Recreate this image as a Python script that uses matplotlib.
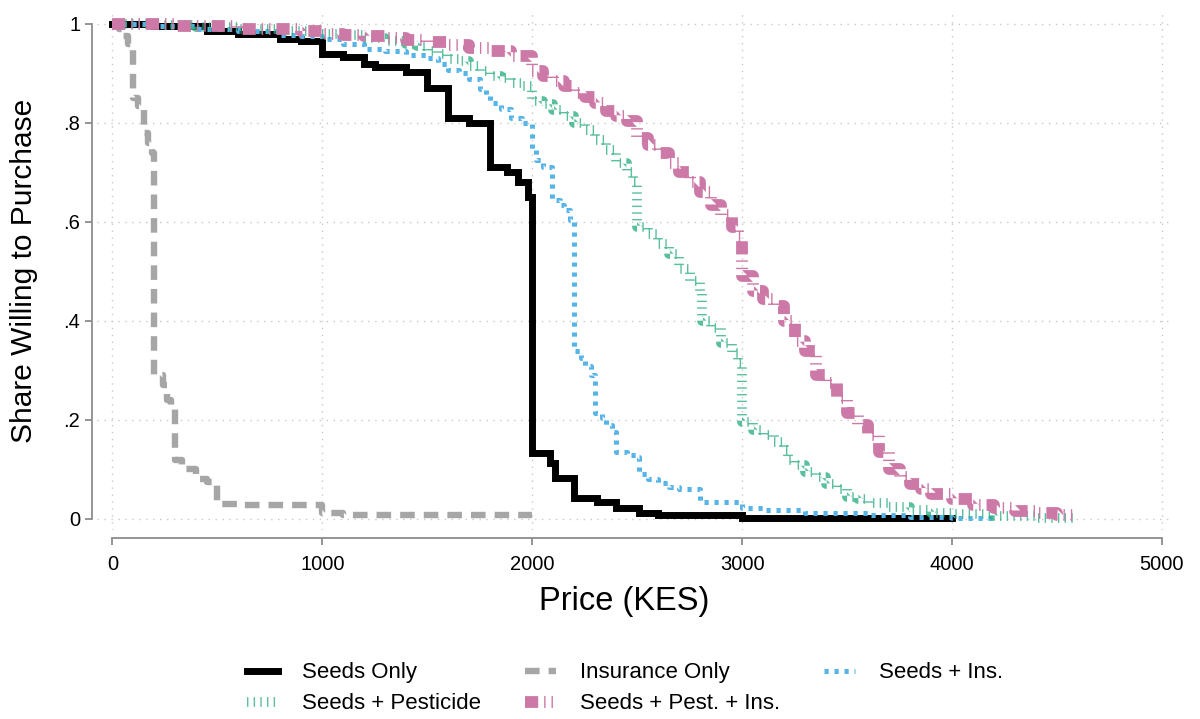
import numpy as np
import matplotlib
matplotlib.use("Agg")
import matplotlib.pyplot as plt

plt.rcParams["font.family"] = ["Liberation Sans", "DejaVu Sans"]
plt.rcParams["lines.scale_dashes"] = False

# demand curves: price (KES) where the share steps, and share after the step
seeds_price = [0, 200, 450, 600, 800, 900, 1000, 1100, 1200, 1250, 1400, 1500, 1600,
               1700, 1800, 1880, 1930, 1980, 2000, 2085, 2110, 2200, 2310, 2400,
               2510, 2600, 3000, 4000]
seeds_share = [1.0, 0.995, 0.985, 0.98, 0.97, 0.965, 0.94, 0.934, 0.92, 0.913, 0.903,
               0.87, 0.81, 0.80, 0.712, 0.70, 0.68, 0.65, 0.133, 0.113, 0.083, 0.042,
               0.034, 0.022, 0.012, 0.009, 0.002, 0.002]

ins_price = [0, 30, 50, 75, 100, 120, 150, 170, 190, 200, 240, 260, 280, 300, 330,
             350, 400, 450, 490, 500, 600, 1000, 1100, 2000]
ins_share = [1.0, 0.99, 0.975, 0.96, 0.85, 0.835, 0.78, 0.76, 0.74, 0.29, 0.27, 0.24,
             0.225, 0.12, 0.11, 0.10, 0.08, 0.075, 0.07, 0.03, 0.028, 0.012, 0.008, 0.008]

seeds_ins_price = [0, 200, 400, 600, 800, 900, 1000, 1100, 1200, 1300, 1400, 1500, 1550,
                   1600, 1650, 1700, 1750, 1780, 1800, 1850, 1900, 1950, 2000, 2020,
                   2050, 2095, 2130, 2150, 2180, 2200, 2230, 2250, 2280, 2300, 2330,
                   2350, 2380, 2400, 2450, 2500, 2510, 2550, 2600, 2650, 2700, 2800,
                   3000, 3100, 3300, 3600, 3800, 4000, 4200]
seeds_ins_share = [1.0, 0.995, 0.99, 0.985, 0.978, 0.975, 0.97, 0.96, 0.95, 0.945,
                   0.937, 0.932, 0.92, 0.908, 0.90, 0.888, 0.868, 0.856, 0.84, 0.828,
                   0.81, 0.80, 0.745, 0.725, 0.712, 0.645, 0.635, 0.625, 0.605, 0.34,
                   0.325, 0.31, 0.29, 0.215, 0.205, 0.19, 0.175, 0.135, 0.13, 0.125,
                   0.09, 0.08, 0.073, 0.065, 0.06, 0.035, 0.022, 0.018, 0.012, 0.008,
                   0.005, 0.003, 0.003]

seeds_pest_price = [0, 200, 400, 600, 800, 1000, 1100, 1200, 1300, 1400, 1450, 1500,
                    1550, 1600, 1650, 1700, 1750, 1800, 1850, 1900, 1950, 2000, 2050,
                    2100, 2150, 2200, 2250, 2300, 2350, 2400, 2450, 2480, 2500, 2550,
                    2600, 2650, 2700, 2750, 2800, 2810, 2850, 2900, 2950, 2980, 3000,
                    3050, 3100, 3150, 3200, 3220, 3250, 3300, 3350, 3400, 3450, 3500,
                    3550, 3600, 3700, 3800, 3900, 4000, 4200, 4400, 4600]
seeds_pest_share = [1.0, 0.997, 0.993, 0.99, 0.985, 0.98, 0.977, 0.972, 0.965, 0.96,
                    0.955, 0.945, 0.94, 0.93, 0.925, 0.915, 0.905, 0.895, 0.89, 0.88,
                    0.875, 0.845, 0.838, 0.826, 0.815, 0.80, 0.785, 0.765, 0.745, 0.72,
                    0.70, 0.68, 0.59, 0.575, 0.555, 0.535, 0.505, 0.48, 0.455, 0.40,
                    0.385, 0.355, 0.335, 0.315, 0.195, 0.18, 0.17, 0.155, 0.14, 0.12,
                    0.11, 0.095, 0.085, 0.07, 0.06, 0.045, 0.04, 0.032, 0.025, 0.018,
                    0.013, 0.01, 0.006, 0.003, 0.003]

all_price = [0, 300, 600, 900, 1000, 1100, 1200, 1300, 1400, 1500, 1600, 1700, 1800,
             1900, 2000, 2050, 2100, 2150, 2200, 2250, 2300, 2350, 2400, 2450, 2500,
             2550, 2600, 2650, 2700, 2750, 2800, 2850, 2900, 2950, 2980, 3000, 3050,
             3100, 3150, 3200, 3250, 3300, 3350, 3400, 3450, 3500, 3550, 3600, 3650,
             3700, 3750, 3800, 3850, 3900, 4000, 4100, 4200, 4300, 4400, 4500, 4600]
all_share = [1.0, 0.995, 0.99, 0.985, 0.98, 0.977, 0.975, 0.972, 0.968, 0.963, 0.958,
             0.952, 0.945, 0.935, 0.905, 0.895, 0.885, 0.875, 0.86, 0.853, 0.84, 0.825,
             0.815, 0.805, 0.77, 0.755, 0.74, 0.72, 0.70, 0.68, 0.66, 0.635, 0.615,
             0.59, 0.57, 0.49, 0.46, 0.445, 0.43, 0.40, 0.36, 0.34, 0.29, 0.275, 0.245,
             0.215, 0.19, 0.17, 0.135, 0.10, 0.085, 0.07, 0.06, 0.05, 0.04, 0.028,
             0.022, 0.016, 0.012, 0.008, 0.008]

fig = plt.figure(figsize=(12, 7.19), dpi=100)
ax = fig.add_axes([0.0808, 0.2629, 0.8959, 0.7204])

black, = ax.step(seeds_price, seeds_share, where="post", color="black", lw=5,
                 solid_joinstyle="miter", label="Seeds Only", zorder=3)
gray, = ax.step(ins_price, ins_share, where="post", color="#a6a6a6", lw=4.6,
                dashes=(10.5, 6.5), label="Insurance Only", zorder=3)
blue, = ax.step(seeds_ins_price, seeds_ins_share, where="post", color="#56b4e9", lw=3.6,
                dashes=(3.0, 4.2), label="Seeds + Ins.", zorder=4)
green, = ax.step(seeds_pest_price, seeds_pest_share, where="post", color="#2fb083",
                 lw=7, dashes=(1.0, 3.8), alpha=0.8, label="Seeds + Pesticide", zorder=4)
pink, = ax.step(all_price, all_share, where="post", color="#cc79a7", lw=8.5,
                dashes=(9.5, 4.3, 1.0, 4.3, 1.0, 4.3), label="Seeds + Pest. + Ins.",
                zorder=5)

ax.set_xlim(-74, 5048)
ax.set_ylim(-0.0222, 1.0242)
ax.set_xticks([0, 1000, 2000, 3000, 4000, 5000])
ax.set_yticks([0, 0.2, 0.4, 0.6, 0.8, 1.0])
ax.set_yticklabels(["0", ".2", ".4", ".6", ".8", "1"])

ax.grid(True, color="#c8c8c8", lw=1.0, linestyle=(0, (1, 4)))
ax.set_axisbelow(True)

for side in ["top", "right"]:
    ax.spines[side].set_visible(False)
ax.spines["left"].set_position(("outward", 3.6))
ax.spines["bottom"].set_position(("outward", 5.8))
ax.spines["left"].set_bounds(0, 1)
ax.spines["bottom"].set_bounds(0, 5000)
for side in ["left", "bottom"]:
    ax.spines[side].set_color("#8c8c8c")
    ax.spines[side].set_linewidth(1.3)
ax.tick_params(axis="both", colors="#8c8c8c", length=5, width=1.3, labelsize=14.5,
               labelcolor="black")
ax.tick_params(axis="y", pad=3.5)
ax.tick_params(axis="x", pad=7)

ax.set_xlabel("Price (KES)", fontsize=23.5)
ax.set_ylabel("Share Willing to Purchase", fontsize=21.5)
ax.xaxis.set_label_coords(0.49, -0.108)
ax.yaxis.set_label_coords(-0.055, 0.5)

leg = fig.legend(handles=[black, green, gray, pink, blue], loc="center",
                 bbox_to_anchor=(0.521, 0.0425), ncol=3, frameon=False, fontsize=16,
                 handlelength=1.4, handletextpad=1.1, columnspacing=1.95,
                 labelspacing=0.45)

fig.savefig("out.png", dpi=100)
